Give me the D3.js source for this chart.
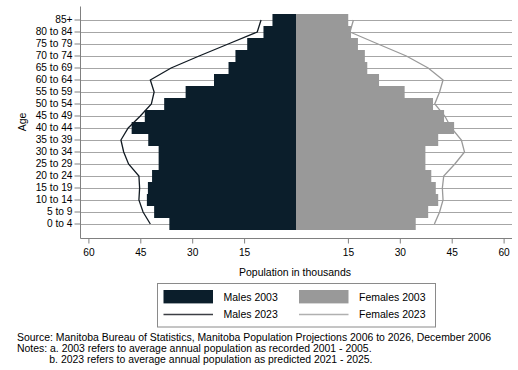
<!DOCTYPE html>
<html>
<head>
<meta charset="utf-8">
<script src="https://cdn.jsdelivr.net/npm/d3@7"></script>
<style>
  body { margin: 0; background: #fff; }
  text { font-family: Arial, "Liberation Sans", sans-serif; fill: #000; }
</style>
</head>
<body>
<svg id="chart" width="518" height="370"></svg>
<script>
// age groups, youngest first
const ageGroups = ["0 to 4", "5 to 9", "10 to 14", "15 to 19", "20 to 24", "25 to 29",
  "30 to 34", "35 to 39", "40 to 44", "45 to 49", "50 to 54", "55 to 59",
  "60 to 64", "65 to 69", "70 to 74", "75 to 79", "80 to 84", "85+"];

// population in thousands
const males2003   = [36.6, 41.0, 43.1, 42.8, 41.6, 39.7, 39.7, 42.7, 47.5, 43.7, 38.1, 31.9, 23.7, 19.5, 17.5, 14.1, 9.4, 6.8];
const females2003 = [34.6, 38.2, 41.1, 40.4, 39.1, 37.4, 37.4, 41.1, 45.7, 42.8, 39.6, 31.4, 24.0, 20.6, 19.9, 17.9, 15.9, 15.1];
const males2023   = [42.1, 44.2, 45.4, 45.2, 45.4, 48.4, 49.8, 50.6, 48.5, 45.0, 41.8, 41.0, 42.1, 36.1, 28.0, 19.6, 11.2, 10.1];
const females2023 = [40.0, 41.5, 42.5, 42.3, 42.7, 45.9, 48.7, 47.8, 44.9, 43.0, 40.1, 41.5, 42.5, 38.2, 31.9, 23.7, 15.6, 16.6];

const xTicks = [15, 30, 45, 60];

const navy = "#0b1e2b";
const grey = "#999999";

const rows = ageGroups.map((age, i) => ({
  age, m03: males2003[i], f03: females2003[i], m23: males2023[i], f23: females2023[i]
}));

const svg = d3.select("#chart");

const plotLeft = 80.5, plotRight = 512, axisY = 238.5, plotTop = 6.5;

const y = d3.scaleBand().domain(ageGroups).range([230, 14]).padding(0);
const xM = d3.scaleLinear().domain([0, 60]).range([296, 88.4]);
const xF = d3.scaleLinear().domain([0, 60]).range([296, 503.6]);
const yc = d => y(d.age) + y.bandwidth() / 2;

// gridlines
svg.append("g")
  .selectAll("line")
  .data(rows)
  .join("line")
  .attr("x1", plotLeft).attr("x2", plotRight)
  .attr("y1", d => yc(d) + 0.5).attr("y2", d => yc(d) + 0.5)
  .attr("stroke", "#a6a6a6").attr("stroke-width", 1);

// bars
svg.append("g")
  .selectAll("rect")
  .data(rows)
  .join("rect")
  .attr("x", d => xM(d.m03))
  .attr("y", d => y(d.age))
  .attr("width", d => xM(0) - xM(d.m03))
  .attr("height", y.bandwidth())
  .attr("fill", navy);

svg.append("g")
  .selectAll("rect")
  .data(rows)
  .join("rect")
  .attr("x", xF(0))
  .attr("y", d => y(d.age))
  .attr("width", d => xF(d.f03) - xF(0))
  .attr("height", y.bandwidth())
  .attr("fill", grey);

// 2023 lines
svg.append("path")
  .datum(rows)
  .attr("fill", "none")
  .attr("stroke", "#111a22")
  .attr("stroke-width", 1.3)
  .attr("d", d3.line().x(d => xM(d.m23)).y(yc));

svg.append("path")
  .datum(rows)
  .attr("fill", "none")
  .attr("stroke", "#9a9a9a")
  .attr("stroke-width", 1.3)
  .attr("d", d3.line().x(d => xF(d.f23)).y(yc));

// y axis
const yAxis = svg.append("g")
  .attr("transform", `translate(${plotLeft},0)`)
  .call(d3.axisLeft(y).tickSize(6).tickPadding(2).tickSizeOuter(0));
yAxis.select(".domain").remove();
yAxis.selectAll(".tick line").attr("stroke", "#808080");
yAxis.selectAll("text").style("font-size", "10.2px").style("font-family", "Arial, 'Liberation Sans', sans-serif");
yAxis.append("line")
  .attr("x1", 0).attr("x2", 0).attr("y1", plotTop).attr("y2", axisY)
  .attr("stroke", "#808080");

// x axes
[xM, xF].forEach(sc => {
  const g = svg.append("g")
    .attr("transform", `translate(0,${axisY})`)
    .call(d3.axisBottom(sc).tickValues(xTicks).tickSize(5).tickPadding(5).tickSizeOuter(0));
  g.select(".domain").remove();
  g.selectAll(".tick line").attr("stroke", "#808080");
  g.selectAll("text").style("font-size", "10.2px").style("font-family", "Arial, 'Liberation Sans', sans-serif");
});
svg.append("line")
  .attr("x1", plotLeft).attr("x2", plotRight).attr("y1", axisY).attr("y2", axisY)
  .attr("stroke", "#808080");

// axis titles
svg.append("text")
  .attr("x", 295).attr("y", 275.5)
  .attr("text-anchor", "middle")
  .style("font-size", "10.5px")
  .text("Population in thousands");

svg.append("text")
  .attr("transform", "translate(26,122) rotate(-90)")
  .attr("text-anchor", "middle")
  .style("font-size", "10.5px")
  .text("Age");

// legend
const legend = svg.append("g");
legend.append("rect")
  .attr("x", 157.5).attr("y", 283.5).attr("width", 278).attr("height", 43.5)
  .attr("fill", "#fff").attr("stroke", "#8a8a8a");

const legendItems = [
  { label: "Males 2003", type: "bar", color: navy, x: 163.5, y: 296.7 },
  { label: "Females 2003", type: "bar", color: grey, x: 299, y: 296.7 },
  { label: "Males 2023", type: "line", color: "#3c3f44", x: 163.5, y: 314.5 },
  { label: "Females 2023", type: "line", color: "#b0b0b0", x: 299, y: 314.5 }
];

legendItems.forEach(it => {
  if (it.type === "bar") {
    legend.append("rect")
      .attr("x", it.x).attr("y", it.y - 6.7).attr("width", 49.5).attr("height", 13.4)
      .attr("fill", it.color);
  } else {
    legend.append("line")
      .attr("x1", it.x).attr("x2", it.x + 49.5).attr("y1", it.y).attr("y2", it.y)
      .attr("stroke", it.color).attr("stroke-width", 1.5);
  }
  legend.append("text")
    .attr("x", it.x + 60).attr("y", it.y + 3.8)
    .style("font-size", "10.5px")
    .text(it.label);
});

// notes
const notes = [
  { x: 17, y: 340.5, t: "Source: Manitoba Bureau of Statistics, Manitoba Population Projections 2006 to 2026, December 2006" },
  { x: 17, y: 351.5, t: "Notes: a. 2003 refers to average annual population as recorded 2001 - 2005." },
  { x: 49.3, y: 362.5, t: "b. 2023 refers to average annual population as predicted 2021 - 2025." }
];
svg.append("g")
  .selectAll("text")
  .data(notes)
  .join("text")
  .attr("x", d => d.x).attr("y", d => d.y)
  .style("font-size", "10.45px")
  .text(d => d.t);
</script>
</body>
</html>
